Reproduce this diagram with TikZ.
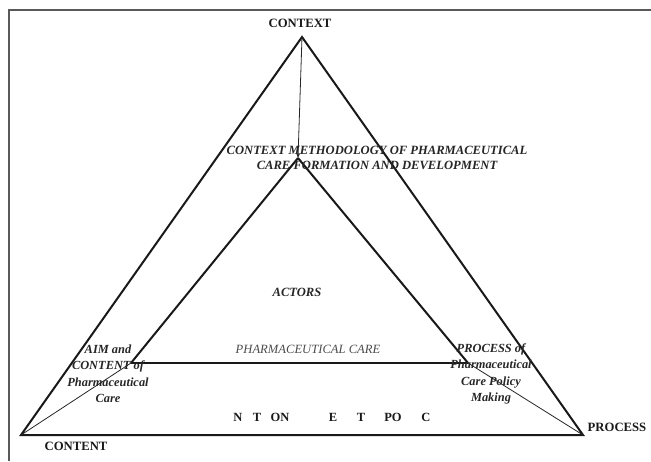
\documentclass[tikz,border=0pt]{standalone}
\usepackage{fontspec}
\setmainfont{Liberation Serif}
\usetikzlibrary{arrows.meta}
\begin{document}
\begin{tikzpicture}[x=1pt,y=-1pt,
  thickline/.style={line width=2pt,black!90},
  thinline/.style={line width=0.8pt,black!85},
  framel/.style={line width=1.4pt,gray!70!black},
  corner/.style={font=\bfseries\fontsize{12.7}{14}\selectfont,text=black!90},
  bi/.style={font=\bfseries\itshape\fontsize{12.6}{15.5}\selectfont,text=black!85,align=center,inner sep=0pt},
  sidelbl/.style={font=\bfseries\itshape\fontsize{12.4}{16.5}\selectfont,text=black!85,align=center,inner sep=0pt},
  frag/.style={font=\bfseries\fontsize{12.5}{14}\selectfont,text=black!90,inner sep=0pt}
]
\useasboundingbox (0,0) rectangle (651,461);
% frame
\coordinate (fTL) at (9,10);
\coordinate (fTR) at (651,10);
\coordinate (fBL) at (9,461);
\draw[framel] (fTR) -- (fTL) -- (fBL);
% corners
\coordinate (oA) at (302,37);
\coordinate (oL) at (21,435);
\coordinate (oR) at (583,435);
\coordinate (iA) at (298,158);
\coordinate (iL) at (131,363);
\coordinate (iR) at (468,363);
% triangles
\draw[thickline,line join=miter] (oA) -- (oL) -- (oR) -- cycle;
\draw[thickline,line join=miter] (iA) -- (iL);
\draw[thickline,line join=miter] (iA) -- (iR);
\draw[line width=2.4pt,black!90] (iL) -- (iR);
% connectors
\draw[thinline,-{Stealth[length=5pt,width=4pt]}] (oA) -- (iA);
\draw[thinline] (oL) -- (iL);
\draw[thinline] (oR) -- (iR);
% labels
\node[corner] (ctx) at (300,23) {CONTEXT};
\node[corner] (cnt) at (76,446) {CONTENT};
\node[corner] (prc) at (617,427) {PROCESS};
\node[bi] (meth) at (377,158) {CONTEXT METHODOLOGY OF PHARMACEUTICAL\\CARE FORMATION AND DEVELOPMENT};
\node[bi] (act) at (297,292) {ACTORS};
\node[font=\itshape\fontsize{12.6}{14}\selectfont,text=black!70,inner sep=0pt] (pc) at (308,349) {PHARMACEUTICAL CARE};
\node[sidelbl] (aim) at (108,374) {AIM and\\CONTENT of\\Pharmaceutical\\Care};
\node[sidelbl] (proc) at (491,374) {PROCESS of\\Pharmaceutical\\Care Policy\\Making};
% fragments
\node[frag] (f1) at (238,417) {N};
\node[frag] (f2) at (257,417) {T};
\node[frag] (f3) at (280,417) {ON};
\node[frag] (f4) at (333,417) {E};
\node[frag] (f5) at (361,417) {T};
\node[frag] (f6) at (393,417) {PO};
\node[frag] (f7) at (426,417) {C};
\end{tikzpicture}
\end{document}
